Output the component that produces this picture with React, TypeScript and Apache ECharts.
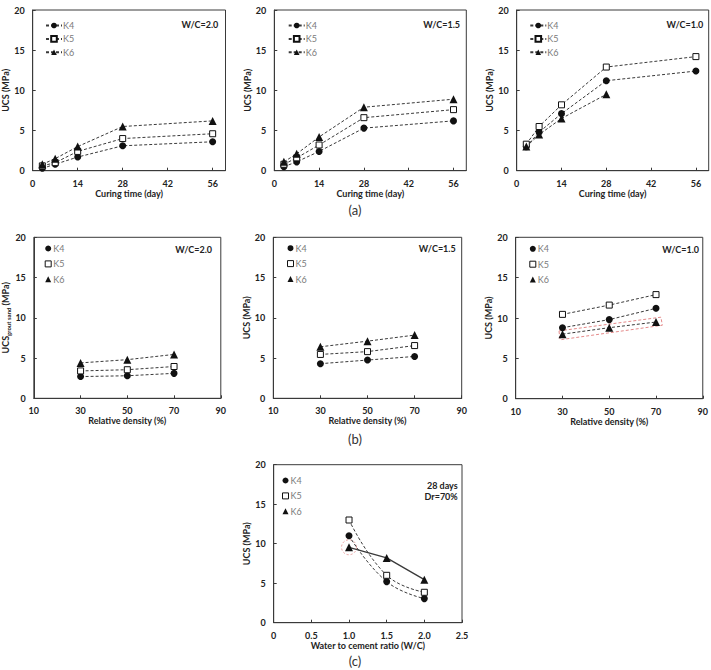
import React, { useEffect, useRef } from "react";
import * as echarts from "echarts";

// (a) UCS vs curing time, per W/C ratio
const curingDays = [3, 7, 14, 28, 56];
const k4Wc20 = [0.3, 0.8, 1.7, 3.1, 3.6];
const k5Wc20 = [0.6, 1.0, 2.4, 4.0, 4.6];
const k6Wc20 = [0.8, 1.5, 3.0, 5.5, 6.2];
const k4Wc15 = [0.5, 1.1, 2.4, 5.3, 6.2];
const k5Wc15 = [0.8, 1.6, 3.2, 6.6, 7.6];
const k6Wc15 = [1.1, 2.1, 4.2, 7.9, 8.9];
const k4Wc10 = [3.0, 4.8, 7.1, 11.2, 12.4];
const k5Wc10 = [3.3, 5.5, 8.2, 12.9, 14.2];
const k6Wc10 = [3.0, 4.5, 6.5, 9.5]; // no 56-day specimen

// (b) UCS vs relative density, per W/C ratio
const relDensity = [30, 50, 70];
const k4Dr20 = [2.7, 2.8, 3.1];
const k5Dr20 = [3.4, 3.55, 3.95];
const k6Dr20 = [4.4, 4.8, 5.45];
const k4Dr15 = [4.3, 4.75, 5.2];
const k5Dr15 = [5.45, 5.8, 6.55];
const k6Dr15 = [6.4, 7.1, 7.85];
const k4Dr10 = [8.8, 9.8, 11.2];
const k5Dr10 = [10.45, 11.6, 12.9];
const k6Dr10 = [8.0, 8.8, 9.5];

// (c) UCS vs water to cement ratio (28 days, Dr = 70%)
const wcRatio = [1.0, 1.5, 2.0];
const k4Ratio = [11.0, 5.2, 3.05];
const k5Ratio = [13.0, 6.0, 3.85];
const k6Ratio = [9.55, 8.2, 5.45];

// highlighted K6 band in (b) W/C=1.0 and highlighted K6 point in (c)
const k6BandOutline = [
  [28.5, 8.4],
  [72.1, 10.1],
  [72.7, 9.1],
  [29.0, 7.3],
  [28.5, 8.4],
];
const k6Highlight = [[1.0, 9.55]];

const FONT = "Lato";
const INK = "#222";
const LINE = "#3a3a3a";
const RED = "#e58a8a";

const pairs = (xs: number[], ys: number[]) => ys.map((y, i) => [xs[i], y]);

const markers: Record<string, { symbol: string; size: number; fill: string }> = {
  K4: { symbol: "circle", size: 7, fill: "#111" },
  K5: { symbol: "rect", size: 6, fill: "#fff" },
  K6: { symbol: "triangle", size: 8, fill: "#111" },
};

const grids = [
  { left: 32.7, top: 10, width: 192.8, height: 160.7 },
  { left: 274.3, top: 10, width: 192, height: 160.7 },
  { left: 516.7, top: 10, width: 192, height: 160.7 },
  { left: 32.3, top: 237.3, width: 188.5, height: 161 },
  { left: 273.3, top: 237.3, width: 188.4, height: 161 },
  { left: 515.7, top: 237.3, width: 189.6, height: 161.4 },
  { left: 273.7, top: 464.7, width: 188.3, height: 158 },
];

const labelStyle = { fontFamily: FONT, fontWeight: "bold" as const, fontSize: 9, color: INK };

function baseAxis() {
  return {
    axisLine: { show: true, onZero: false, lineStyle: { color: LINE, width: 1 } },
    axisTick: { show: true, inside: true, length: 3, lineStyle: { color: LINE } },
    splitLine: { show: false },
    nameLocation: "middle" as const,
    nameTextStyle: { ...labelStyle },
  };
}

function curingXAxis(i: number) {
  return {
    ...baseAxis(),
    type: "value",
    gridIndex: i,
    min: 0,
    max: 60,
    interval: 14,
    name: "Curing time (day)",
    nameGap: 16,
    axisLabel: {
      ...labelStyle,
      margin: 8,
      showMaxLabel: false,
      formatter: (v: number) => (v % 14 === 0 ? String(v) : ""),
    },
  };
}

function densityXAxis(i: number) {
  return {
    ...baseAxis(),
    type: "value",
    gridIndex: i,
    min: 10,
    max: 90,
    interval: 20,
    name: "Relative density (%)",
    nameGap: 16,
    axisLabel: { ...labelStyle, margin: 8 },
  };
}

function ratioXAxis(i: number) {
  return {
    ...baseAxis(),
    type: "value",
    gridIndex: i,
    min: 0,
    max: 2.5,
    interval: 0.5,
    name: "Water to cement ratio (W/C)",
    nameGap: 16,
    axisLabel: {
      ...labelStyle,
      margin: 8,
      formatter: (v: number) => (v === 0 ? "0" : v.toFixed(1)),
    },
  };
}

function ucsYAxis(i: number, subscript = false) {
  const ax: any = {
    ...baseAxis(),
    type: "value",
    gridIndex: i,
    min: 0,
    max: 20,
    interval: 5,
    name: "UCS (MPa)",
    nameGap: 21,
    axisLabel: { ...labelStyle, margin: 8 },
  };
  if (subscript) {
    ax.name = "{m|UCS}{s|grout sand}{m| (MPa)}";
    ax.nameTextStyle = {
      ...labelStyle,
      rich: {
        m: { ...labelStyle, lineHeight: 12, verticalAlign: "middle" },
        s: { fontFamily: FONT, fontWeight: "bold", fontSize: 6, color: INK, lineHeight: 12, verticalAlign: "bottom" },
      },
    };
  }
  return ax;
}

function dataSeries(
  name: string,
  grid: number,
  xs: number[],
  ys: number[],
  opts: { solid?: boolean; smooth?: boolean } = {}
) {
  const m = markers[name];
  return {
    type: "line",
    name,
    xAxisIndex: grid,
    yAxisIndex: grid,
    data: pairs(xs, ys),
    symbol: m.symbol,
    symbolSize: m.size,
    smooth: opts.smooth ? 0.45 : false,
    itemStyle: { color: m.fill, borderColor: "#111", borderWidth: m.fill === "#fff" ? 1 : 0 },
    lineStyle: {
      color: LINE,
      width: opts.solid ? 1.3 : 1,
      type: opts.solid ? "solid" : [3, 2],
    },
    z: 3,
  };
}

function lineLegend(left: number) {
  return {
    orient: "vertical",
    left,
    top: 21,
    padding: 0,
    itemGap: 4.4,
    itemWidth: 16,
    itemHeight: 7,
    selectedMode: false,
    textStyle: { fontFamily: FONT, fontSize: 9, color: "#7a7a7a", padding: [0, 0, 0, -4] },
    data: ["K4", "K5", "K6"],
  };
}

function markerLegend(left: number, top: number) {
  return {
    orient: "vertical",
    left,
    top,
    padding: 0,
    itemGap: 6.4,
    itemWidth: 6,
    itemHeight: 6,
    selectedMode: false,
    textStyle: { fontFamily: FONT, fontSize: 9, color: "#7a7a7a", padding: [0, 0, 0, -3] },
    data: [
      { name: "K4", icon: "circle", itemStyle: { color: "#111", borderWidth: 0 } },
      { name: "K5", icon: "rect", itemStyle: { color: "#fff", borderColor: "#111", borderWidth: 1 } },
      { name: "K6", icon: "triangle", itemStyle: { color: "#111", borderWidth: 0 } },
    ],
  };
}

function noteText(text: string, x: number, y: number) {
  return {
    type: "text",
    x,
    y,
    style: {
      text,
      fill: INK,
      fontFamily: FONT,
      fontWeight: "bold",
      fontSize: 9,
      align: "right",
      verticalAlign: "middle",
    },
  };
}

function captionText(text: string, x: number, y: number) {
  return {
    type: "text",
    x,
    y,
    style: {
      text,
      fill: "#333",
      fontFamily: FONT,
      fontSize: 13,
      align: "center",
      verticalAlign: "middle",
    },
  };
}

function buildOption() {
  const series: any[] = [
    dataSeries("K4", 0, curingDays, k4Wc20),
    dataSeries("K5", 0, curingDays, k5Wc20),
    dataSeries("K6", 0, curingDays, k6Wc20),
    dataSeries("K4", 1, curingDays, k4Wc15),
    dataSeries("K5", 1, curingDays, k5Wc15),
    dataSeries("K6", 1, curingDays, k6Wc15),
    dataSeries("K4", 2, curingDays, k4Wc10),
    dataSeries("K5", 2, curingDays, k5Wc10),
    dataSeries("K6", 2, curingDays, k6Wc10),
    dataSeries("K4", 3, relDensity, k4Dr20),
    dataSeries("K5", 3, relDensity, k5Dr20),
    dataSeries("K6", 3, relDensity, k6Dr20),
    dataSeries("K4", 4, relDensity, k4Dr15),
    dataSeries("K5", 4, relDensity, k5Dr15),
    dataSeries("K6", 4, relDensity, k6Dr15),
    dataSeries("K4", 5, relDensity, k4Dr10),
    dataSeries("K5", 5, relDensity, k5Dr10),
    dataSeries("K6", 5, relDensity, k6Dr10),
    dataSeries("K4", 6, wcRatio, k4Ratio, { smooth: true }),
    dataSeries("K5", 6, wcRatio, k5Ratio, { smooth: true }),
    dataSeries("K6", 6, wcRatio, k6Ratio, { solid: true }),
    {
      type: "line",
      name: "band",
      xAxisIndex: 5,
      yAxisIndex: 5,
      data: k6BandOutline,
      symbol: "none",
      silent: true,
      lineStyle: { color: RED, width: 1, type: [3, 2] },
      z: 2,
    },
    {
      type: "scatter",
      name: "highlight",
      xAxisIndex: 6,
      yAxisIndex: 6,
      data: k6Highlight,
      symbol: "circle",
      symbolSize: 15,
      silent: true,
      itemStyle: { color: "rgba(0,0,0,0)", borderColor: RED, borderWidth: 1, borderType: [2, 2] },
      z: 2,
    },
  ];

  return {
    animation: false,
    backgroundColor: "#fff",
    textStyle: { fontFamily: FONT },
    grid: grids.map((g) => ({ ...g, show: true, borderColor: LINE, borderWidth: 1, backgroundColor: "transparent" })),
    xAxis: [
      curingXAxis(0),
      curingXAxis(1),
      curingXAxis(2),
      densityXAxis(3),
      densityXAxis(4),
      densityXAxis(5),
      ratioXAxis(6),
    ],
    yAxis: [ucsYAxis(0), ucsYAxis(1), ucsYAxis(2), ucsYAxis(3, true), ucsYAxis(4), ucsYAxis(5), ucsYAxis(6)],
    legend: [
      lineLegend(45),
      lineLegend(287.7),
      lineLegend(529.3),
      markerLegend(44.7, 244),
      markerLegend(287, 243.7),
      markerLegend(529.3, 244.3),
      markerLegend(282, 476),
    ],
    graphic: [
      noteText("W/C=2.0", 218.3, 24),
      noteText("W/C=1.5", 460, 24),
      noteText("W/C=1.0", 703.3, 24),
      noteText("W/C=2.0", 212, 249),
      noteText("W/C=1.5", 455.7, 248.3),
      noteText("W/C=1.0", 699, 249),
      noteText("28 days", 457.7, 485.3),
      noteText("Dr=70%", 457.7, 496.3),
      captionText("(a)", 355, 210),
      captionText("(b)", 355, 439),
      captionText("(c)", 355, 661),
    ],
    series,
  };
}

export default function App() {
  const ref = useRef<HTMLDivElement>(null);

  useEffect(() => {
    if (!ref.current) return;
    const chart = echarts.init(ref.current, null, { renderer: "svg" });
    chart.setOption(buildOption() as any);
    return () => chart.dispose();
  }, []);

  return (
    <div
      ref={ref}
      style={{ position: "absolute", left: 0, top: 0, width: 711, height: 670, background: "#fff" }}
    />
  );
}
